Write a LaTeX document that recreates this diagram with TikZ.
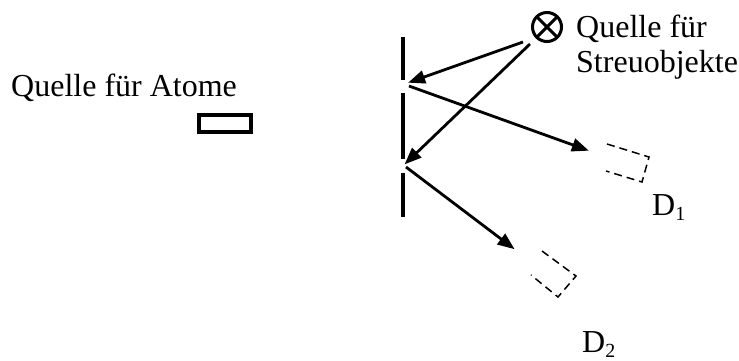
\documentclass[tikz,border=0pt]{standalone}
\usepackage{fontspec}
\setmainfont{Liberation Serif}
\usetikzlibrary{arrows.meta}
\tikzset{
  lbl/.style={inner sep=0pt, anchor=base west, font=\fontsize{32}{35}\selectfont},
  ray/.style={line width=2.8pt, -{Triangle[length=17pt,width=13pt]}, shorten >=-2pt},
  wall/.style={line width=4pt},
  detbox/.style={line width=1.5pt, dash pattern=on 8pt off 5pt},
  srcbox/.style={draw, line width=4pt, minimum width=52pt, minimum height=17pt, inner sep=0pt},
  otimes/.style={circle, draw, line width=3pt, minimum size=29pt, inner sep=0pt,
    path picture={\draw[line width=3pt] (path picture bounding box.north west) -- (path picture bounding box.south east)
      (path picture bounding box.north east) -- (path picture bounding box.south west);}}
}
\newcommand{\sub}[1]{\raisebox{-5pt}{\fontsize{20}{20}\selectfont #1}}
\begin{document}
\begin{tikzpicture}[x=1pt,y=-1pt]
\useasboundingbox (0,0) rectangle (739,360);
% labels
\node[lbl] (atomlbl) at (11,96) {Quelle für Atome};
\node[srcbox] (atoms) at (225,123.5) {};
\node[otimes] (qs) at (547,27) {};
\node[lbl, align=left] (qslbl) at (576,72) {Quelle für\\Streuobjekte};
\node[lbl] (d1lbl) at (652,215) {D\sub{1}};
\node[lbl] (d2lbl) at (582,352) {D\sub{2}};
% barrier
\draw[wall] (403,37) -- (403,80);
\draw[wall] (403,93) -- (403,159);
\draw[wall] (403,173) -- (403,217);
% coordinates
\coordinate (s1) at (523,42);
\coordinate (s2) at (530,44);
\coordinate (slitA) at (410,82);
\coordinate (slitB) at (406,163);
\coordinate (outA) at (409,86);
\coordinate (outB) at (406,167);
\coordinate (tipA) at (587,150);
\coordinate (tipB) at (513,248);
% rays
\draw[ray] (s1) -- (slitA);
\draw[ray] (s2) -- (slitB);
\draw[ray] (outA) -- (tipA);
\draw[ray] (outB) -- (tipB);
% detectors
\draw[detbox] (607,144) -- (649,157) -- (642,182) -- (606,171);
\draw[detbox] (542,251) -- (576,276) -- (558,297) -- (531,275);
\end{tikzpicture}
\end{document}
